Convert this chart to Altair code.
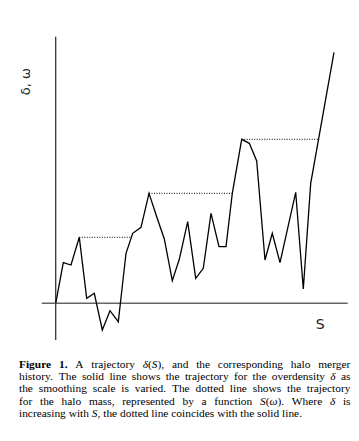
import altair as alt
import pandas as pd
import glob
import re
import struct

# trajectory delta(S)
S_vals = [0, 7.6, 15.3, 23.6, 31, 38.6, 46.6, 54.3, 62.6, 70.3, 77, 85.3, 93.3, 101,
          108.6, 116.6, 123.6, 132, 140, 147.6, 155.3, 163.3, 170.3, 176.6, 186, 193.6,
          201, 209.3, 216.6, 224.3, 240, 247.6, 255, 278.3]
delta_vals = [0, 40.6, 38.3, 66, 5, 10, -26.7, -7.4, -18.4, 50, 70, 76, 110, 86.6,
              64.3, 22.6, 44, 81.6, 25, 35, 90, 56.6, 56.6, 110, 164, 160,
              142.3, 43.3, 70, 40.6, 111, 14.3, 120, 251]

# plateaus of omega (dotted line)
omega_level = [66, 110, 164]
omega_start = [23.6, 93.3, 186]
omega_end = [76, 176.6, 262]

# caption: *bold*, _italic_
caption_lines = [
    "*Figure* *1.* A trajectory _\u03b4_(_S_), and the corresponding halo merger",
    "history. The solid line shows the trajectory for the overdensity _\u03b4_ as",
    "the smoothing scale is varied. The dotted line shows the trajectory",
    "for the halo mass, represented by a function _S_(_\u03c9_). Where _\u03b4_ is",
    "increasing with _S_, the dotted line coincides with the solid line.",
]


# ---------- font metrics (for justified caption) ----------
def find_font(name):
    for root in ("/usr/share/fonts", "/usr/local/share/fonts", "/usr/share/fonts/truetype"):
        hits = glob.glob(f"{root}/**/{name}", recursive=True)
        if hits:
            return hits[0]
    return None


def load_metrics(path):
    with open(path, "rb") as f:
        data = f.read()
    n = struct.unpack(">H", data[4:6])[0]
    tabs = {}
    for i in range(n):
        tag, _, off, ln = struct.unpack(">4sIII", data[12 + 16 * i:28 + 16 * i])
        tabs[tag.decode("latin1")] = off
    upem = struct.unpack(">H", data[tabs["head"] + 18:tabs["head"] + 20])[0]
    nhm = struct.unpack(">H", data[tabs["hhea"] + 34:tabs["hhea"] + 36])[0]
    hm = tabs["hmtx"]
    adv = [struct.unpack(">H", data[hm + 4 * i:hm + 4 * i + 2])[0] for i in range(nhm)]
    cm = tabs["cmap"]
    nsub = struct.unpack(">H", data[cm + 2:cm + 4])[0]
    sub = None
    for i in range(nsub):
        pid, eid, off = struct.unpack(">HHI", data[cm + 4 + 8 * i:cm + 12 + 8 * i])
        if pid == 3 and eid == 1:
            sub = cm + off
    segx2 = struct.unpack(">H", data[sub + 6:sub + 8])[0]
    seg = segx2 // 2
    ends = struct.unpack(f">{seg}H", data[sub + 14:sub + 14 + segx2])
    so = sub + 16 + segx2
    starts = struct.unpack(f">{seg}H", data[so:so + segx2])
    do = so + segx2
    deltas = struct.unpack(f">{seg}h", data[do:do + segx2])
    ro = do + segx2
    ros = struct.unpack(f">{seg}H", data[ro:ro + segx2])

    def gid(c):
        for i in range(seg):
            if ends[i] >= c:
                if starts[i] > c:
                    return 0
                if ros[i] == 0:
                    return (c + deltas[i]) & 0xFFFF
                addr = ro + 2 * i + ros[i] + 2 * (c - starts[i])
                g = struct.unpack(">H", data[addr:addr + 2])[0]
                return (g + deltas[i]) & 0xFFFF if g else 0
        return 0

    def width(s, size):
        tot = 0
        for ch in s:
            g = gid(ord(ch))
            tot += adv[g] if g < nhm else adv[-1]
        return tot * size / upem

    return width


def fallback(s, size):
    return 0.45 * size * len(s)


FONT_FILES = {"r": "LiberationSerif-Regular.ttf", "b": "LiberationSerif-Bold.ttf",
              "i": "LiberationSerif-Italic.ttf"}
metrics = {}
for k, fn in FONT_FILES.items():
    try:
        metrics[k] = load_metrics(find_font(fn))
    except Exception:
        metrics[k] = fallback

CAP_SIZE = 11.4
CAP_LEFT, CAP_RIGHT = 19.0, 350.5
base_y = [368, 380.2, 392.4, 404.6, 416.8]
VIEW_X, VIEW_Y = 41.7, 36.7  # page position of plot-area origin

tokens = []
for li, raw in enumerate(caption_lines):
    words = raw.split(" ")
    wsegs = []
    for w in words:
        segs = []
        for m in re.finditer(r"\*([^*]+)\*|_([^_]+)_|([^*_]+)", w):
            if m.group(1):
                segs.append((m.group(1), "b"))
            elif m.group(2):
                segs.append((m.group(2), "i"))
            else:
                segs.append((m.group(3), "r"))
        wsegs.append(segs)
    wwidth = [sum(metrics[st](t, CAP_SIZE) for t, st in segs) for segs in wsegs]
    last = li == len(caption_lines) - 1
    if last:
        gap = metrics["r"](" ", CAP_SIZE)
    else:
        gap = (CAP_RIGHT - CAP_LEFT - sum(wwidth)) / (len(words) - 1)
    x = CAP_LEFT
    for segs, ww in zip(wsegs, wwidth):
        sx = x
        for t, st in segs:
            tokens.append({"t": t, "style": st, "x": sx - VIEW_X, "y": base_y[li] - VIEW_Y})
            sx += metrics[st](t, CAP_SIZE)
        x += ww + gap
tok = pd.DataFrame(tokens)

traj = pd.DataFrame({"S": S_vals, "delta": delta_vals, "order": range(len(S_vals))})
dots = pd.DataFrame({"s0": omega_start, "s1": omega_end, "w": omega_level})

W, H = 306, 303.3
xs = alt.Scale(domain=[-14, 292], nice=False, zero=False)
ys = alt.Scale(domain=[-36.7, 266.6], nice=False, zero=False)

yaxis = alt.Chart(pd.DataFrame({"x": [0]})).mark_rule(color="#333", strokeWidth=1.3).encode(
    x=alt.X("x:Q", scale=xs, axis=None))
xaxis = alt.Chart(pd.DataFrame({"y": [0]})).mark_rule(color="#666", strokeWidth=1.5).encode(
    y=alt.Y("y:Q", scale=ys, axis=None))

line = alt.Chart(traj).mark_line(color="black", strokeWidth=1.3).encode(
    x=alt.X("S:Q", scale=xs, axis=None),
    y=alt.Y("delta:Q", scale=ys, axis=None),
    order="order:Q",
)

dotted = alt.Chart(dots).mark_rule(color="black", strokeWidth=1, strokeDash=[1, 1.5]).encode(
    x=alt.X("s0:Q", scale=xs, axis=None), x2="s1:Q",
    y=alt.Y("w:Q", scale=ys, axis=None),
)

ylabel = alt.Chart(pd.DataFrame({"t": ["\u03b4, \u03c9"]})).mark_text(
    font="DejaVu Sans", fontSize=13, angle=270, align="center", baseline="middle", color="#222"
).encode(x=alt.value(-16), y=alt.value(45), text="t:N")

xlabel = alt.Chart(pd.DataFrame({"t": ["S"]})).mark_text(
    font="DejaVu Sans", fontSize=14, align="center", baseline="alphabetic", color="#222"
).encode(x=alt.value(278.5), y=alt.value(292), text="t:N")


def cap_layer(style, **kw):
    return alt.Chart(tok).transform_filter(alt.datum.style == style).mark_text(
        font="Liberation Serif", fontSize=CAP_SIZE, align="left", baseline="alphabetic",
        color="black", **kw
    ).encode(
        x=alt.X("x:Q", scale=None, axis=None),
        y=alt.Y("y:Q", scale=None, axis=None),
        text="t:N",
    )


cap_r = cap_layer("r")
cap_b = cap_layer("b", fontWeight="bold")
cap_i = cap_layer("i", fontStyle="italic")

chart = alt.layer(yaxis, xaxis, dotted, line, ylabel, xlabel, cap_r, cap_b, cap_i).properties(
    width=W, height=H,
    padding={"left": 33.7, "top": 28.7, "right": 3.3, "bottom": 93},
    autosize=alt.AutoSizeParams(type="none"),
).configure_view(stroke=None)

chart.save("out.html", embed_options={"renderer": "svg", "actions": False})
